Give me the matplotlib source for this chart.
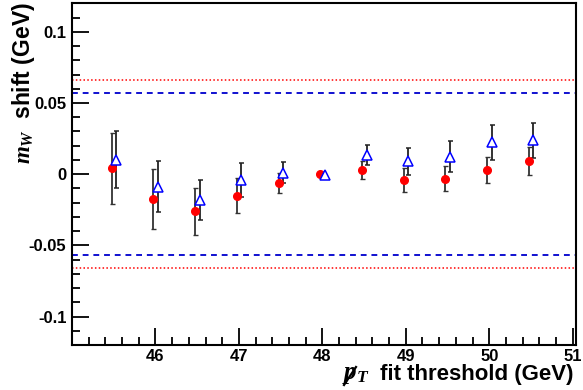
import numpy as np
import matplotlib
matplotlib.use("Agg")
from matplotlib import pyplot as plt
from matplotlib.lines import Line2D
from matplotlib.ticker import MultipleLocator, FixedLocator

plt.rcParams['font.family'] = ['Liberation Sans', 'DejaVu Sans']
plt.rcParams['font.weight'] = 'bold'
plt.rcParams['axes.labelweight'] = 'bold'
plt.rcParams['mathtext.fontset'] = 'custom'
plt.rcParams['mathtext.it'] = 'Liberation Serif:italic:bold'
plt.rcParams['mathtext.rm'] = 'Liberation Serif:bold'

# fit thresholds (GeV)
thresh = [45.5, 46.0, 46.5, 47.0, 47.5, 48.0, 48.5, 49.0, 49.5, 50.0, 50.5]

# mW shift, red circles
shift_red = [0.0042, -0.0174, -0.026, -0.0151, -0.0063, 0.0, 0.003, -0.0042, -0.0031, 0.003, 0.0094]
err_red = [0.025, 0.0213, 0.0165, 0.0125, 0.007, 0.0, 0.0066, 0.0086, 0.009, 0.0094, 0.010]

# mW shift, blue triangles
shift_blue = [0.010, -0.0087, -0.0181, -0.004, 0.0011, -0.0005, 0.0136, 0.0092, 0.0124, 0.0223, 0.0237]
err_blue = [0.020, 0.018, 0.014, 0.012, 0.0075, 0.0, 0.007, 0.0095, 0.0107, 0.0122, 0.0125]

# reference bands
red_band = 0.066
blue_band = 0.0568

x = np.array(thresh)
W, H = 583, 390

fig = plt.figure(figsize=(5.83, 3.90), dpi=100)
ax = fig.add_axes([0.1235, 0.1154, 0.8645, 0.876])

ax.axhline(red_band, color='red', ls=(0, (1, 1.5)), lw=1.1)
ax.axhline(-red_band, color='red', ls=(0, (1, 1.5)), lw=1.1)
ax.axhline(blue_band, color='#1010d0', ls=(0, (3, 2.5)), lw=1.4)
ax.axhline(-blue_band, color='#1010d0', ls=(0, (3, 2.5)), lw=1.4)

ax.errorbar(x - 0.025, shift_red, yerr=err_red, fmt='o', color='red', ms=5.5,
            ecolor='#333333', elinewidth=1.3, capsize=1.8, capthick=1.0, zorder=3)
ax.errorbar(x + 0.03, shift_blue, yerr=err_blue, fmt='^', mfc='white', mec='blue',
            mew=1.1, ms=6.5, ecolor='#222222', elinewidth=1.3, capsize=1.8,
            capthick=1.0, zorder=3)

ax.set_xlim(45, 51.04)
ax.set_ylim(-0.12, 0.12)

ax.xaxis.set_major_locator(FixedLocator([46, 47, 48, 49, 50, 51]))
ax.xaxis.set_minor_locator(MultipleLocator(0.2))
ax.yaxis.set_major_locator(FixedLocator([-0.1, -0.05, 0, 0.05, 0.1]))
ax.yaxis.set_minor_locator(MultipleLocator(0.01))
ax.set_yticklabels(['-0.1', '-0.05', '0', '0.05', '0.1'], fontweight='bold')
ax.set_xticklabels(['46', '47', '48', '49', '50', '51'], fontweight='bold')

ax.tick_params(which='both', direction='in', top=False, right=False, width=1.3,
               labelsize=12)
ax.tick_params(which='major', length=12)
ax.tick_params(which='minor', length=6)
ax.tick_params(axis='x', pad=3)
ax.tick_params(axis='y', pad=4)
for s in ax.spines.values():
    s.set_linewidth(1.5)

# x title: slashed p_T + text, right aligned at the axis end
fig.text(574 / W, 1 - 380 / H, 'fit threshold (GeV)', ha='right', va='baseline',
         fontsize=16, fontweight='bold')
fig.text(342 / W, 1 - 379 / H, r'$p_T$', ha='left', va='baseline', fontsize=18)
fig.add_artist(Line2D([344 / W, 356 / W], [1 - 385 / H, 1 - 367 / H],
                      transform=fig.transFigure, color='black', lw=1.6))

# y title, rotated, top aligned
fig.text(24 / W, 1 - 2 / H, r'$m_W$  shift (GeV)', rotation=90, ha='center',
         va='top', fontsize=16.5, fontweight='bold')

fig.savefig('out.png', dpi=100)
